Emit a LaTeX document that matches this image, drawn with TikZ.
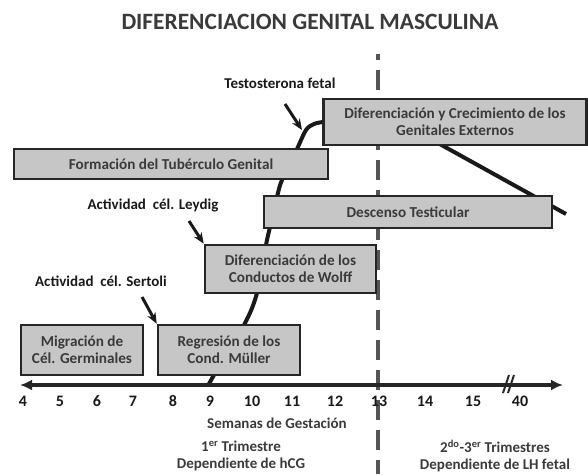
\documentclass[tikz,border=0pt]{standalone}
\usepackage{fontspec}
\setmainfont{Carlito}
\usetikzlibrary{arrows.meta}
\definecolor{cajagris}{HTML}{C6C6C6}
\definecolor{textogris}{HTML}{3A3A3A}
\definecolor{rayagris}{HTML}{555555}

\tikzset{
    etapa/.style={draw=black!85, line width=2.6pt, fill=cajagris, text=textogris,
        font=\bfseries\fontsize{15.2}{17}\selectfont, align=center, inner sep=0pt},
    nota/.style={text=black!90, font=\bfseries\fontsize{15}{17}\selectfont},
    flecha/.style={-{Stealth[length=11pt,width=9pt]}, line width=3pt, black!90},
    semana/.style={text=black!90, font=\bfseries\fontsize{16}{18}\selectfont},
    pie/.style={text=textogris, align=center, font=\bfseries\fontsize{15}{17.5}\selectfont},
}

\begin{document}
\begin{tikzpicture}[x=1pt, y=-1pt]
    \useasboundingbox (0,0) rectangle (588,474);

    \node[text=textogris, font=\bfseries\fontsize{23.4}{26}\selectfont] (titulo) at (310,22) {DIFERENCIACION GENITAL MASCULINA};

    % linea de las 13 semanas
    \draw[rayagris, line width=4pt, dash pattern=on 20pt off 10pt, dash phase=14pt] (378,54) -- (378,474);

    % curva de testosterona
    \draw[line width=4pt, black!90] plot[smooth, tension=0.55] coordinates {(208,386) (214,375) (244,325) (257,293) (266,245) (270,227) (277,197) (282,180) (297,149) (306,130) (314,124) (323,122)} -- (400,122) -- (566,214);

    % etapas
    \node[etapa, minimum width=263pt, minimum height=46pt] (genext) at (455,122) {Diferenciación y Crecimiento de los\\Genitales Externos};
    \node[etapa, minimum width=314pt, minimum height=30pt] (tuberculo) at (171,164) {Formación del Tubérculo Genital};
    \node[etapa, minimum width=288pt, minimum height=32pt] (descenso) at (408,212) {Descenso Testicular};
    \node[etapa, minimum width=171pt, minimum height=48pt] (wolff) at (290.5,269) {Diferenciación de los\\Conductos de Wolff};
    \node[etapa, minimum width=122pt, minimum height=50pt] (migracion) at (82,350) {Migración de\\Cél. Germinales};
    \node[etapa, minimum width=142pt, minimum height=50pt] (muller) at (229,350) {Regresión de los\\Cond. Müller};

    % notas y flechas
    \node[nota] (testo) at (280,83) {Testosterona fetal};
    \node[nota] (leydig) at (153,205) {Actividad~ cél. Leydig};
    \node[nota] (sertoli) at (101,281) {Actividad~ cél. Sertoli};
    \coordinate (testo-a) at (285,104);
    \coordinate (testo-b) at (302,130);
    \coordinate (leydig-a) at (189,221);
    \coordinate (sertoli-a) at (142,297);
    \draw[flecha] (testo-a) -- (testo-b);
    \draw[flecha] (leydig-a) -- (wolff.north west);
    \draw[flecha] (sertoli-a) -- (muller.north west);

    % eje de semanas
    \coordinate (eje-izq) at (20,385);
    \coordinate (eje-der) at (563,385);
    \draw[{Latex[length=12pt,width=11pt]}-{Latex[length=12pt,width=11pt]}, line width=3.5pt, black!85] (eje-izq) -- (eje-der);
    \draw[line width=2pt, black!85] (503,393) -- (509,375);
    \draw[line width=2pt, black!85] (508,393) -- (514,375);
    \foreach \n/\x in {4/23,5/60,6/97,7/133,8/173,9/210,10/252,11/292,12/335,13/379,14/425,15/473,40/520}
        \node[semana] (sem\n) at (\x,401) {\n};

    \node[pie] (gestacion) at (277,423) {Semanas de Gestación};
    \node[pie] (trim1) at (241,456) {1\textsuperscript{er} Trimestre\\Dependiente de hCG};
    \node[pie] (trim23) at (495,456) {2\textsuperscript{do}-3\textsuperscript{er} Trimestres\\Dependiente de LH fetal};
\end{tikzpicture}
\end{document}
